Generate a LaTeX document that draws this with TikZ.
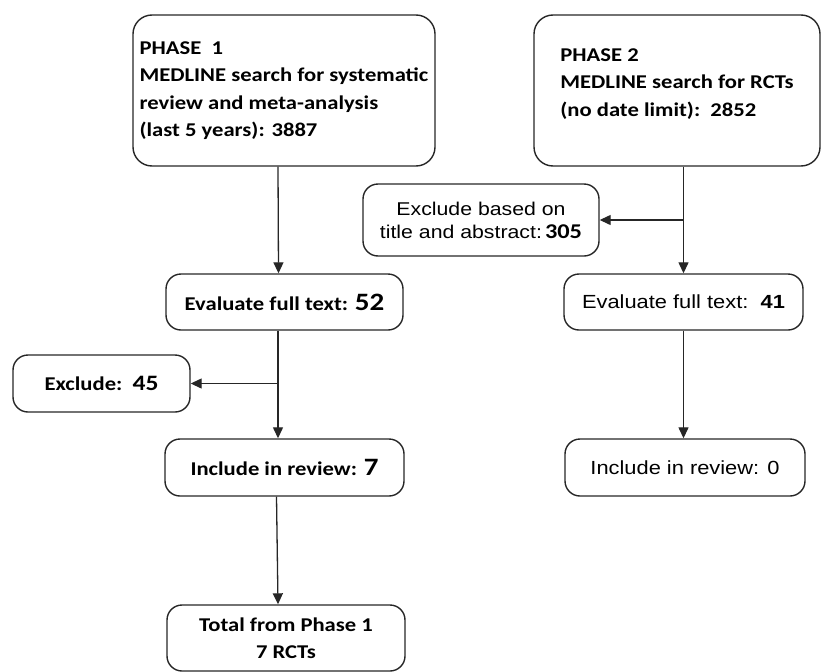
\documentclass[tikz,border=0pt]{standalone}
\usepackage{fontspec}
\setmainfont{Carlito}[FakeStretch=1.16]
\newfontfamily\arialfont{Liberation Sans}[FakeStretch=1.15]
\usepackage{tikz}
\usetikzlibrary{calc}
\usetikzlibrary{arrows.meta}

\newcommand{\flownum}[2]{{\normalfont\bfseries\fontsize{#1}{#1}\selectfont #2}}

\tikzset{
  box/.style={draw=black!85, line width=1.4pt, rounded corners=15pt, align=center, inner sep=0pt, font=\bfseries\fontsize{19.5}{27}\selectfont},
  bigbox/.style={box, rounded corners=19pt, align=left, font=\bfseries\fontsize{19.5}{27.5}\selectfont},
  arialbox/.style={box, font=\arialfont\fontsize{18.5}{23}\selectfont},
  arr/.style={draw=black!85, line width=1.3pt, -{Triangle[length=11pt,width=10pt]}}
}

\begin{document}
\begin{tikzpicture}[x=1pt,y=-1pt]
\useasboundingbox (0,0) rectangle (822,672);

\node[bigbox, minimum width=302pt, minimum height=151pt] (p1) at (284,90.5) {PHASE~~1\\MEDLINE search for systematic\\review and meta-analysis\\(last 5 years): 3887};	% Phase 1 Kasten
\node[bigbox, minimum width=286pt, minimum height=151pt, text depth=16pt] (p2) at (677,90.5) {PHASE 2\\MEDLINE search for RCTs\\(no date limit):~~2852};	% Phase 2 Kasten

\node[arialbox, minimum width=236pt, minimum height=72pt] (ex1) at (481,220) {Exclude based on\\title and abstract:\,\flownum{21}{305}};	% Ausschluss Phase 2
\node[box, minimum width=237pt, minimum height=56pt] (ev1) at (284.5,302) {Evaluate full text: \flownum{25}{52}};	% Volltext links
\node[arialbox, minimum width=239pt, minimum height=56pt, font=\arialfont\fontsize{19}{23}\selectfont] (ev2) at (683.5,302) {Evaluate full text:~~\textbf{41}};	% Volltext rechts
\node[box, minimum width=177pt, minimum height=57pt] (ex2) at (101.5,383.5) {Exclude:~~\flownum{22}{45}};	% Ausschluss Phase 1
\node[box, minimum width=239pt, minimum height=57pt] (in1) at (284.5,467.5) {Include in review: \flownum{25}{7}};	% Einschluss links
\node[arialbox, minimum width=240pt, minimum height=57pt, font=\arialfont\fontsize{19}{23}\selectfont] (in2) at (685,467.5) {Include in review: 0};	% Einschluss rechts
\node[box, minimum width=238pt, minimum height=66pt] (tot) at (286,638) {Total from Phase 1\\7 RCTs};	% Summe Phase 1

\draw[arr] ([xshift=-6pt]p1.south) -- ([xshift=-6pt]ev1.north);	% Pfeil Phase 1
\draw[arr] ([xshift=-6.5pt]ev1.south) -- ([xshift=-6.5pt]in1.north);
\coordinate (j1) at ([xshift=-6.5pt]ev1.south |- ex2.east);
\draw[arr] (j1) -- (ex2.east);	% Abzweig Ausschluss
\draw[arr] ([xshift=-8pt]in1.south) -- ([xshift=-8pt]tot.north);

\draw[arr] (p2.south -| ev2.north) -- (ev2.north);	% Pfeil Phase 2
\coordinate (j2) at (ev2.north |- ex1.east);
\draw[arr] (j2) -- (ex1.east);	% Abzweig Ausschluss
\draw[arr] (ev2.south) -- (ev2.south |- in2.north);

\end{tikzpicture}
\end{document}
